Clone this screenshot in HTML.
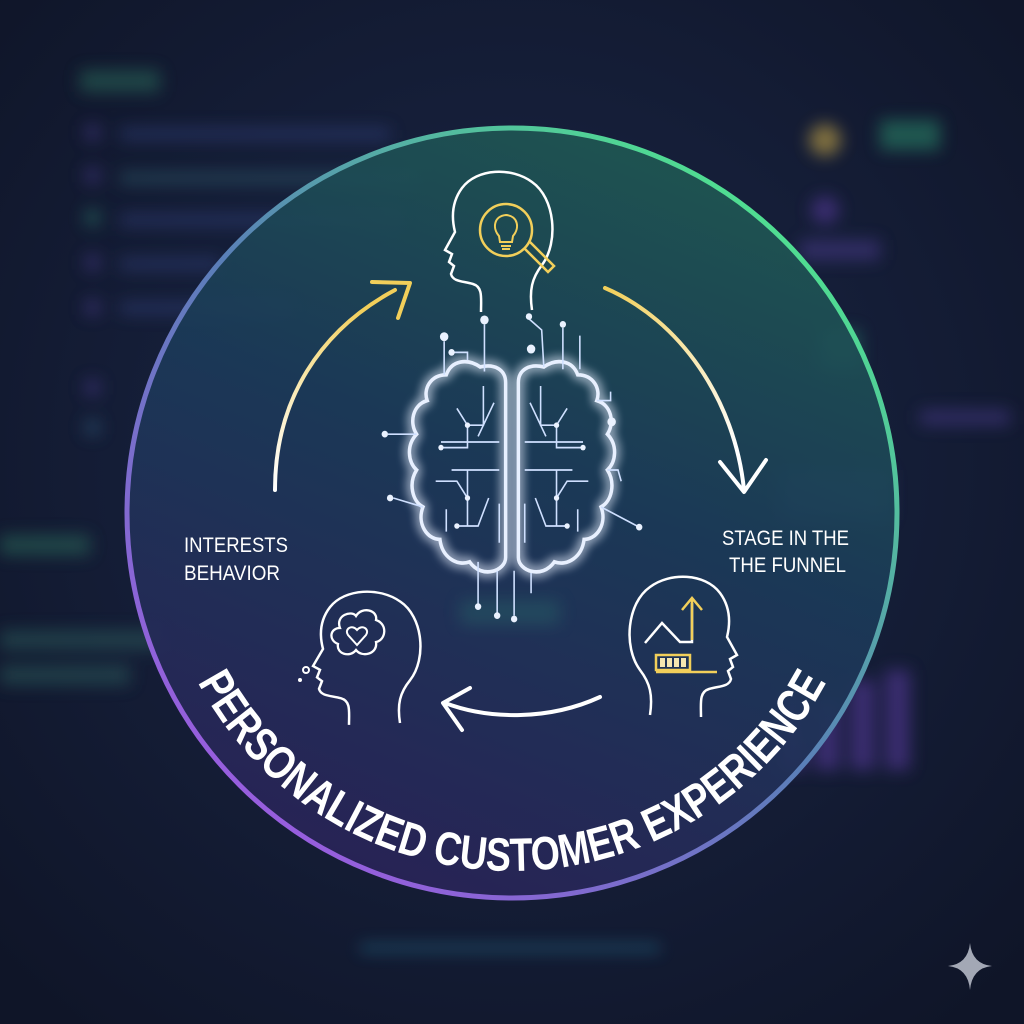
<!DOCTYPE html>
<html><head><meta charset="utf-8"><style>
html,body{margin:0;padding:0;background:#131a30;}
svg{display:block}
</style></head><body>
<svg width="1024" height="1024" viewBox="0 0 1024 1024" xmlns="http://www.w3.org/2000/svg">
<defs>
<radialGradient id="bg" cx="50%" cy="45%" r="70%">
<stop offset="0" stop-color="#1b2748"/><stop offset="1" stop-color="#0f1528"/></radialGradient>
<linearGradient id="fill" x1="0.7" y1="0" x2="0.3" y2="1">
<stop offset="0" stop-color="#1f5a52"/><stop offset="0.45" stop-color="#1b3a58"/><stop offset="1" stop-color="#2a2258"/></linearGradient>
<linearGradient id="ring" x1="0.85" y1="0.1" x2="0.15" y2="0.9">
<stop offset="0" stop-color="#4fe38f"/><stop offset="0.5" stop-color="#5a7fb8"/><stop offset="1" stop-color="#9b5ce0"/></linearGradient>
<linearGradient id="la" x1="0" y1="1" x2="0.6" y2="0"><stop offset="0" stop-color="#ffffff"/><stop offset="1" stop-color="#f2cf5a"/></linearGradient>
<linearGradient id="ra" x1="0" y1="0" x2="0.6" y2="1"><stop offset="0" stop-color="#f2cf5a"/><stop offset="1" stop-color="#ffffff"/></linearGradient>
<filter id="blur" x="-50%" y="-50%" width="200%" height="200%"><feGaussianBlur stdDeviation="8"/></filter>
<filter id="glow" x="-30%" y="-30%" width="160%" height="160%"><feGaussianBlur stdDeviation="5" result="b"/><feMerge><feMergeNode in="b"/><feMergeNode in="b"/><feMergeNode in="SourceGraphic"/></feMerge></filter>
<path id="tp" d="M 162 580 A 356 356 0 0 0 862 580"/>
<path id="head" d="M95 140 C92 120 95 108 105 95 C122 72 118 28 95 12 C75 -3 40 -2 25 18 C14 33 15 50 18 62 L8 80 L15 84 L12 92 L17 96 L14 104 C16 112 26 111 36 114 C46 117 44 128 44 142"/>
</defs>
<rect width="1024" height="1024" fill="url(#bg)"/>
<g filter="url(#blur)" opacity="0.55">
<rect x="80" y="70" width="80" height="22" fill="#2c6b5a"/>
<rect x="85" y="125" width="15" height="15" fill="#4a3a8a"/><rect x="120" y="128" width="270" height="12" fill="#33407a"/>
<rect x="85" y="168" width="15" height="15" fill="#4a3a8a"/><rect x="120" y="172" width="300" height="12" fill="#2d5a6a"/>
<rect x="85" y="210" width="15" height="15" fill="#2c7a6a"/><rect x="120" y="214" width="280" height="12" fill="#33407a"/>
<rect x="85" y="255" width="15" height="15" fill="#4a3a8a"/><rect x="120" y="258" width="100" height="12" fill="#33407a"/>
<rect x="85" y="300" width="15" height="15" fill="#4a3a8a"/><rect x="120" y="302" width="170" height="12" fill="#33407a"/>
<rect x="85" y="380" width="15" height="15" fill="#4a3a8a"/>
<rect x="85" y="420" width="15" height="15" fill="#2d5a7a"/>
<rect x="0" y="535" width="90" height="20" fill="#2c6b5a"/>
<rect x="0" y="630" width="160" height="20" fill="#2c5a5a"/>
<rect x="0" y="665" width="130" height="20" fill="#2c5a5a"/>
<circle cx="825" cy="140" r="16" fill="#d8b44a"/>
<rect x="880" y="120" width="60" height="30" fill="#2c8a6a"/>
<circle cx="825" cy="210" r="14" fill="#5a3aa0"/>
<rect x="800" y="240" width="80" height="20" fill="#4a3a8a"/>
<rect x="820" y="330" width="40" height="40" fill="#2c7a6a"/>
<rect x="920" y="410" width="90" height="15" fill="#4a3a8a"/>
<rect x="780" y="470" width="110" height="50" fill="#3a4a7a"/>
<rect x="780" y="690" width="25" height="80" fill="#5a3aa0"/><rect x="815" y="700" width="25" height="70" fill="#5a3aa0"/><rect x="850" y="680" width="25" height="90" fill="#5a3aa0"/><rect x="885" y="670" width="25" height="100" fill="#5a3aa0"/>
<rect x="360" y="945" width="300" height="6" fill="#2a8aa8"/>
</g>
<circle cx="512" cy="513" r="385" fill="url(#fill)" opacity="0.92"/>
<circle cx="512" cy="513" r="385" fill="none" stroke="url(#ring)" stroke-width="5"/>
<rect x="460" y="600" width="100" height="25" fill="#2a6a6a" opacity="0.4" filter="url(#blur)"/>

<path d="M275 490 C275 400 320 330 395 290" fill="none" stroke="url(#la)" stroke-width="4" stroke-linecap="round"/>
<path d="M372 282 L410 283 L398 318" fill="none" stroke="#f2cf5a" stroke-width="4" stroke-linecap="round" stroke-linejoin="round"/>
<path d="M605 288 C680 320 735 400 744 490" fill="none" stroke="url(#ra)" stroke-width="4" stroke-linecap="round"/>
<path d="M720 462 L744 492 L766 460" fill="none" stroke="#ffffff" stroke-width="4" stroke-linecap="round" stroke-linejoin="round"/>
<path d="M600 697 C550 720 490 720 445 703" fill="none" stroke="#fff" stroke-width="4" stroke-linecap="round"/>
<path d="M470 688 L443 703 L462 730" fill="none" stroke="#fff" stroke-width="4" stroke-linecap="round" stroke-linejoin="round"/>

<use href="#head" transform="translate(437,170)" fill="none" stroke="#fff" stroke-width="2.5"/>
<circle cx="506" cy="230" r="26" fill="none" stroke="#f2cf5a" stroke-width="2.5"/>
<path d="M524 248 L548 272 L554 266 L530 242" fill="none" stroke="#f2cf5a" stroke-width="2.5"/>
<path d="M499 236 C492 228 494 216 506 215 C518 216 520 228 513 236 L512 242 L500 242 Z M501 246 H511 M502 249 H510" fill="none" stroke="#f2cf5a" stroke-width="2"/>
<use href="#head" transform="translate(305,590) scale(1.0,0.95)" fill="none" stroke="#fff" stroke-width="2.5"/>
<path d="M340 628 C335 615 352 610 356 616 C362 606 378 610 376 620 C388 624 386 640 376 642 C378 654 362 658 356 650 C350 658 336 654 338 644 C328 640 330 628 340 628 Z" fill="none" stroke="#fff" stroke-width="2.3"/>
<path d="M357 645 L348 635 C344 629 352 624 357 630 C362 624 370 629 366 635 Z" fill="none" stroke="#fff" stroke-width="2"/>
<circle cx="306" cy="670" r="3" fill="none" stroke="#fff" stroke-width="2"/><circle cx="300" cy="680" r="2" fill="#fff"/>
<use href="#head" transform="translate(605,575) scale(-1,1) translate(-140,0)" fill="none" stroke="#fff" stroke-width="2.5"/>
<path d="M645 643 L662 623 L680 642 L692 642 L692 603" fill="none" stroke="#fff" stroke-width="2.5"/>
<path d="M692 600 L692 640 M682 610 L692 598 L702 610" fill="none" stroke="#f2cf5a" stroke-width="2.5"/>
<path d="M656 655 H690 V670 H656 Z M656 672 H717" fill="none" stroke="#f2cf5a" stroke-width="2.5"/>
<g fill="#f5e6b0"><rect x="660" y="658" width="5" height="9"/><rect x="667" y="658" width="5" height="9"/><rect x="674" y="658" width="5" height="9"/><rect x="681" y="658" width="5" height="9"/></g>

<g transform="translate(512,470) scale(1.06,1.12) translate(-512,-470)">
<g filter="url(#glow)" fill="none" stroke="#e8f0ff" stroke-width="3.3">
<path d="M506 392 C506 380 495 375 482 378 C470 370 455 372 450 385 C435 385 428 398 432 408 C418 412 415 428 422 438 C412 448 414 463 422 470 C414 482 418 498 428 503 C422 518 432 532 444 532 C446 548 460 556 472 552 C484 568 506 560 506 548 Z"/>
<path d="M518 392 C518 380 529 375 542 378 C554 370 569 372 574 385 C589 385 596 398 592 408 C606 412 609 428 602 438 C612 448 610 463 602 470 C610 482 606 498 596 503 C602 518 592 532 580 532 C578 548 564 556 552 552 C540 568 518 560 518 548 Z"/>
</g>
<g fill="none" stroke="#cfe0ff" stroke-width="1.5">
<path d="M485 395 V430 H470 M495 410 L480 440 M460 415 L470 430 V450 H445 M445 445 H500 M455 470 H500 M440 480 L460 480 L470 495 M470 470 V520 M490 495 L480 520 H460 M500 500 V535 M450 505 L450 525"/>
<path d="M539 395 V430 H554 M529 410 L544 440 M564 415 L554 430 V450 H579 M579 445 H524 M569 470 H524 M584 480 L564 480 L554 495 M554 470 V520 M534 495 L544 520 H564 M524 500 V535 M574 505 L574 525"/>
<path d="M486 382 V340 M448 385 V355 M470 372 V365 H455 M542 378 L540 345 L528 335 M560 380 V343 M576 380 V350 M592 408 L605 408 V400 M422 438 L395 438 M428 503 L400 495 M596 503 L630 520 M602 470 L612 470 L615 480 M480 552 V590 M498 560 V598 M514 560 V600 M530 562 V580"/>
</g>
<g fill="#eaf2ff">
<circle cx="486" cy="336" r="4"/><circle cx="448" cy="351" r="4"/><circle cx="455" cy="365" r="3"/><circle cx="528" cy="333" r="3"/><circle cx="530" cy="362" r="4"/><circle cx="560" cy="340" r="3"/><circle cx="606" cy="427" r="4"/><circle cx="392" cy="438" r="3"/><circle cx="397" cy="495" r="3"/><circle cx="632" cy="521" r="3"/><circle cx="480" cy="592" r="3"/><circle cx="498" cy="600" r="3"/><circle cx="514" cy="603" r="3"/>
<circle cx="470" cy="430" r="2.5"/><circle cx="445" cy="450" r="2.5"/><circle cx="470" cy="495" r="2.5"/><circle cx="554" cy="430" r="2.5"/><circle cx="579" cy="450" r="2.5"/><circle cx="554" cy="495" r="2.5"/><circle cx="460" cy="520" r="2.5"/><circle cx="564" cy="520" r="2.5"/>
</g>
</g>

<g font-family="'Liberation Sans',sans-serif" font-size="21" fill="#ffffff">
<text x="184" y="552" textLength="104" lengthAdjust="spacingAndGlyphs">INTERESTS</text>
<text x="184" y="580" textLength="96" lengthAdjust="spacingAndGlyphs">BEHAVIOR</text>
<text x="722" y="545" textLength="127" lengthAdjust="spacingAndGlyphs">STAGE IN THE</text>
<text x="729" y="572" textLength="117" lengthAdjust="spacingAndGlyphs">THE FUNNEL</text>
</g>
<text font-family="'Liberation Sans',sans-serif" font-weight="bold" font-size="47" fill="#ffffff">
<textPath href="#tp" startOffset="50%" text-anchor="middle" textLength="770" lengthAdjust="spacingAndGlyphs">PERSONALIZED CUSTOMER EXPERIENCE</textPath></text>
<path d="M970 943 Q972 964 992 966 Q972 968 970 990 Q968 968 948 966 Q968 964 970 943 Z" fill="#c8cdd8" opacity="0.8"/>
</svg>
</body></html>
